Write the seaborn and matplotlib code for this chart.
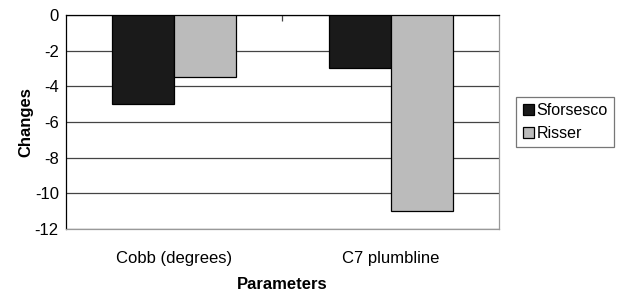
import pandas as pd
import numpy as np
import matplotlib.pyplot as plt
import seaborn as sns
from matplotlib.ticker import FixedLocator

categories = ['Cobb (degrees)', 'C7 plumbline']
sforsesco = [-5, -3]
risser = [-3.5, -11]
groups = ['Sforsesco', 'Risser']
y_ticks = [0, -2, -4, -6, -8, -10, -12]

df = pd.DataFrame({
    'Parameters': categories * 2,
    'Changes': sforsesco + risser,
    'Group': [groups[0]] * len(categories) + [groups[1]] * len(categories),
})

sns.set_style('white')
plt.rcParams['font.family'] = ['Liberation Sans', 'DejaVu Sans']
plt.rcParams['text.color'] = 'black'
plt.rcParams['axes.labelcolor'] = 'black'
plt.rcParams['xtick.color'] = 'black'
plt.rcParams['ytick.color'] = 'black'

fig = plt.figure(figsize=(6.2, 2.92), dpi=100)
ax = fig.add_axes([0.106, 0.216, 0.699, 0.733])

sns.barplot(data=df, x='Parameters', y='Changes', hue='Group',
            palette={'Sforsesco': '#1a1a1a', 'Risser': '#bbbbbb'},
            width=0.574, edgecolor='black', linewidth=0.9, saturation=1,
            errorbar=None, ax=ax, zorder=3)

ax.set_ylim(-12, 0)
ax.set_xlim(-0.5, 1.5)
ax.set_yticks(y_ticks)
ax.set_yticklabels([str(v) for v in y_ticks], fontsize=12)
ax.yaxis.grid(True, color='#444444', linewidth=0.9, zorder=0)
ax.set_axisbelow(True)

ax.tick_params(axis='y', direction='out', length=3, width=0.9, color='black', pad=2)
ax.tick_params(axis='x', which='major', length=0, pad=16, labelsize=12)
ax.xaxis.set_minor_locator(FixedLocator([0.5]))
ax.tick_params(axis='x', which='minor', top=True, bottom=False, direction='in',
               length=4, width=0.9, color='#444444')

for side in ['left', 'top']:
    ax.spines[side].set_color('black')
    ax.spines[side].set_linewidth(0.9)
for side in ['right', 'bottom']:
    ax.spines[side].set_color('#999999')
    ax.spines[side].set_linewidth(0.9)
    ax.spines[side].set_visible(True)

ax.set_xlabel('Parameters', fontsize=12, fontweight='bold', labelpad=8)
ax.set_ylabel('Changes', fontsize=12, fontweight='bold', labelpad=1)

leg = ax.legend(loc='center left', bbox_to_anchor=(1.04, 0.5), frameon=True,
                fancybox=False, edgecolor='#555555', fontsize=11.5,
                handlelength=0.7, handleheight=0.7, handletextpad=0.15,
                borderpad=0.4, labelspacing=0.5, borderaxespad=0)
leg.get_frame().set_linewidth(0.9)

fig.savefig('out.png', dpi=100)
